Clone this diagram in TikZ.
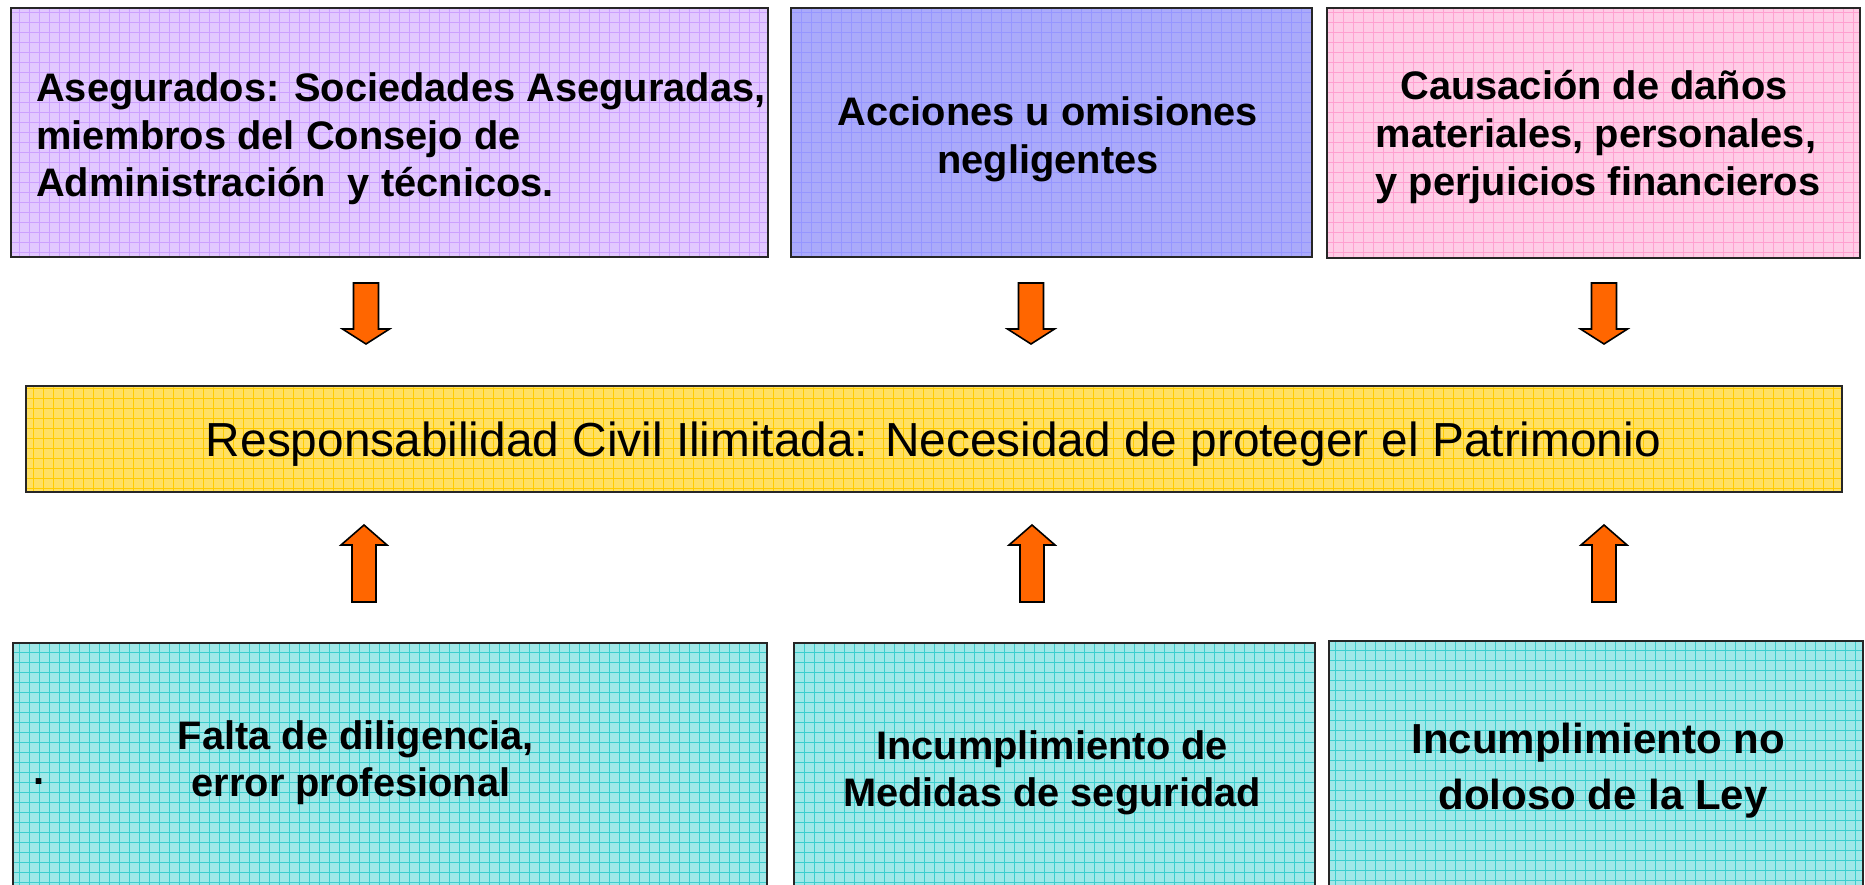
\documentclass[tikz,border=0pt]{standalone}
\usepackage{fontspec}
\setmainfont{Liberation Sans}
\definecolor{pbase}{RGB}{226,200,255}
\definecolor{pline}{RGB}{204,160,255}
\definecolor{bbase}{RGB}{170,170,250}
\definecolor{bline}{RGB}{150,150,255}
\definecolor{kbase}{RGB}{255,204,230}
\definecolor{kline}{RGB}{255,160,208}
\definecolor{ybase}{RGB}{255,224,100}
\definecolor{yline}{RGB}{255,204,0}
\definecolor{cbase}{RGB}{160,232,232}
\definecolor{cline}{RGB}{60,206,206}
\definecolor{arrfill}{RGB}{255,102,0}
\begin{document}
\begin{tikzpicture}[x=1pt,y=-1pt,
  gridbox/.style 2 args={fill=#1, draw=black!85, line width=1.8pt, inner sep=0pt,
    anchor=north west,
    path picture={\draw[#2, line width=0.9pt] (path picture bounding box.south west) grid[step=10pt] (path picture bounding box.north east);}},
  btext/.style={font=\fontsize{39.8}{47.5}\selectfont\bfseries, inner sep=0pt},
  bigtext/.style={font=\fontsize{42}{50}\selectfont\bfseries, inner sep=0pt},
  mtext/.style={font=\fontsize{47.8}{56}\selectfont, inner sep=0pt},
  arrst/.style={fill=arrfill, draw=black, line width=1.6pt, line join=miter},
  downarr/.pic={\draw[arrst] (-12.5,0) -- (12.5,0) -- (12.5,46) -- (23.5,46) -- (0,61) -- (-23.5,46) -- (-12.5,46) -- cycle;},
  uparr/.pic={\draw[arrst] (-12,77) -- (12,77) -- (12,20) -- (23,20) -- (0,0) -- (-23,20) -- (-12,20) -- cycle;}
]
\clip (0,0) rectangle (1865,885);
\fill[white] (0,0) rectangle (1865,885);

% top boxes
\node[gridbox={pbase}{pline}, minimum width=757pt, minimum height=249pt] (asegurados) at (10,7) {};
\node[gridbox={bbase}{bline}, minimum width=521pt, minimum height=249pt] (acciones) at (790,7) {};
\node[gridbox={kbase}{kline}, minimum width=533pt, minimum height=250pt] (causacion) at (1326,7) {};

% middle box
\node[gridbox={ybase}{yline}, minimum width=1816pt, minimum height=106pt] (resp) at (25,385) {};

% bottom boxes
\node[gridbox={cbase}{cline}, minimum width=754pt, minimum height=280pt] (falta) at (12,642) {};
\node[gridbox={cbase}{cline}, minimum width=521pt, minimum height=280pt] (medidas) at (793,642) {};
\node[gridbox={cbase}{cline}, minimum width=534pt, minimum height=280pt] (ley) at (1328,640) {};

% texts top-left
\node[btext, anchor=base west] (a1) at (36,102) {Asegurados: Sociedades Aseguradas,};
\node[btext, anchor=base west] (a2) at (36,150) {miembros del Consejo de};
\node[btext, anchor=base west] (a3) at (36,197) {Administración\ \ y técnicos.};

% texts top-middle
\node[btext, anchor=base] (b1) at (1048,126) {Acciones u omisiones};
\node[btext, anchor=base] (b2) at (1048,174) {negligentes};

% texts top-right
\node[btext, anchor=base] (c1) at (1594,100) {Causación de daños};
\node[btext, anchor=base] (c2) at (1596,148) {materiales, personales,};
\node[btext, anchor=base] (c3) at (1598,196) {y perjuicios financieros};

% middle text
\node[mtext, anchor=base] (r1) at (933.5,456) {Responsabilidad Civil Ilimitada: Necesidad de proteger el Patrimonio};

% bottom texts
\node[btext, anchor=base] (f1) at (356,749) {Falta de diligencia,};
\node[btext, anchor=base] (f2) at (351,796) {error profesional};
\node[btext, anchor=base] (fdot) at (39,784) {.};
\node[btext, anchor=base] (m1) at (1052,759) {Incumplimiento de};
\node[btext, anchor=base] (m2) at (1052,806) {Medidas de seguridad};
\node[bigtext, anchor=base] (l1) at (1598,753) {Incumplimiento no};
\node[bigtext, anchor=base] (l2) at (1603,809) {doloso de la Ley};

% arrows
\pic (d1) at (366,283) {downarr};
\pic (d2) at (1031,283) {downarr};
\pic (d3) at (1604,283) {downarr};
\pic (u1) at (364,525) {uparr};
\pic (u2) at (1032,525) {uparr};
\pic (u3) at (1604,525) {uparr};
\end{tikzpicture}
\end{document}
